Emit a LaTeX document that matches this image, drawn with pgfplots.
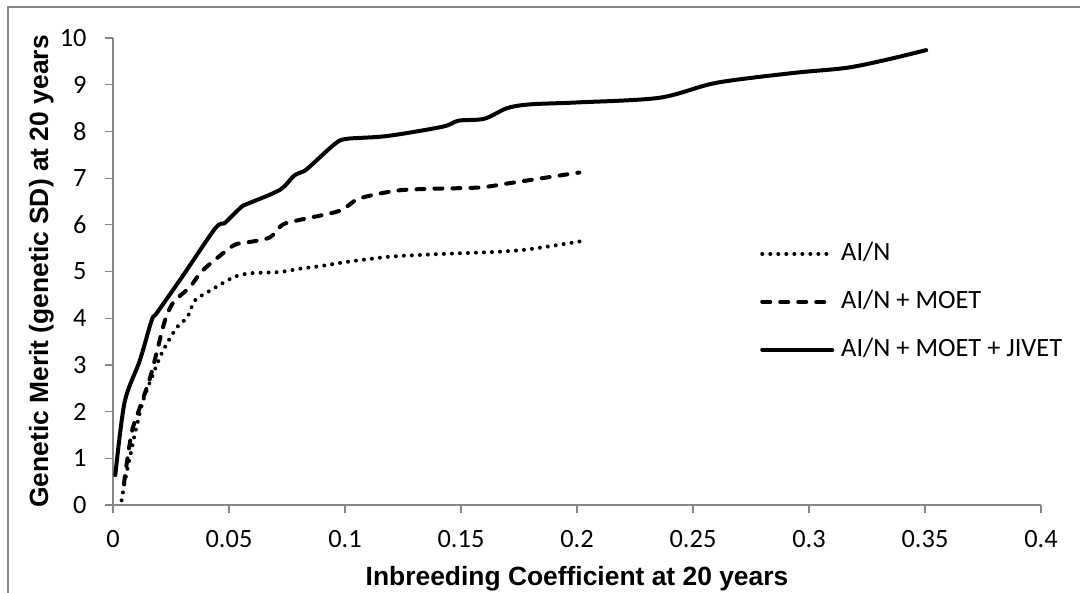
\documentclass[border=0pt]{standalone}
\usepackage{fontspec}
\setmainfont{Carlito}
\newfontfamily\labelfont{Liberation Sans}
\usepackage{pgfplots}
\pgfplotsset{compat=1.18}
\definecolor{axgray}{RGB}{134,134,134}
\begin{document}
\begin{tikzpicture}
\begin{axis}[
  scale only axis, width=464bp, height=233.5bp,
  xmin=0, xmax=0.4, ymin=0, ymax=10,
  axis x line*=bottom, axis y line*=left,
  axis line style={axgray, line width=0.6bp, -},
  tick style={axgray, line width=0.6bp},
  tick align=outside, major tick length=4bp,
  xtick={0,0.05,0.1,0.15,0.2,0.25,0.3,0.35,0.4},
  xticklabels={0,0.05,0.1,0.15,0.2,0.25,0.3,0.35,0.4},
  ytick={0,1,...,10},
  yticklabels={0,1,2,3,4,5,6,7,8,9,10},
  tick label style={font=\fontsize{13.2bp}{15bp}\selectfont, inner sep=0pt},
  xticklabel style={anchor=north},
  yticklabel style={anchor=east},
  xticklabel shift=8.5bp, yticklabel shift=9bp,
  xlabel={Inbreeding Coefficient at 20 years},
  ylabel={Genetic Merit (genetic SD) at 20 years},
  label style={font=\labelfont\bfseries\fontsize{13.2bp}{15bp}\selectfont, inner sep=0pt},
  x label style={at={(axis description cs:0.5,-0.1713)}, anchor=base},
  y label style={at={(axis description cs:-0.07,0.5)}, anchor=base},
  legend style={at={(axis description cs:0.697,0.435)}, anchor=west,
    draw=none, fill=none, inner sep=0pt, row sep=11bp,
    font=\fontsize{13.2bp}{15bp}\selectfont,
    nodes={inner sep=0pt, text height=10bp, text depth=3bp},
    /tikz/every odd column/.append style={column sep=3.5bp}},
  legend cell align=left,
  legend image code/.code={\draw[#1] (0bp,0bp) -- (35bp,0bp);},
  clip=false,
]
\addplot[black, line width=2bp, line cap=round, dash pattern=on 0.01bp off 4bp, smooth, tension=0.5] coordinates {
(0.0037,0.10) (0.0050,0.47) (0.0073,1.03) (0.0095,1.54) (0.0130,2.24)
(0.0168,2.74) (0.0215,3.30) (0.0275,3.80) (0.0320,4.02) (0.0353,4.38)
(0.0405,4.55) (0.0517,4.87) (0.0590,4.96) (0.0720,4.99) (0.0805,5.06)
(0.0900,5.12) (0.1000,5.20) (0.1200,5.32) (0.1440,5.38) (0.1650,5.42)
(0.1800,5.48) (0.2020,5.65)};
\addplot[black, line width=2bp, line cap=round, dash pattern=on 4bp off 5bp, smooth, tension=0.5] coordinates {
(0.0047,0.45) (0.0080,1.54) (0.0116,2.09) (0.0160,2.73) (0.0194,3.38)
(0.0224,3.95) (0.0260,4.34) (0.0330,4.66) (0.0375,4.96) (0.0420,5.17)
(0.0520,5.56) (0.0576,5.62) (0.0676,5.73) (0.0730,6.00) (0.0800,6.10)
(0.0977,6.30) (0.1060,6.56) (0.1220,6.73) (0.1365,6.77) (0.1580,6.80)
(0.1720,6.90) (0.2010,7.12)};
\addplot[black, line width=2bp, line cap=round, smooth, tension=0.5] coordinates {
(0.0010,0.64) (0.0050,2.20) (0.0116,3.10) (0.0167,3.96) (0.0190,4.12)
(0.0300,4.90) (0.0440,5.92) (0.0480,6.03) (0.0495,6.10) (0.0555,6.39)
(0.0580,6.45) (0.0720,6.75) (0.0780,7.05) (0.0827,7.16) (0.0860,7.30)
(0.0956,7.73) (0.1006,7.84) (0.1180,7.90) (0.1420,8.10) (0.1490,8.23)
(0.1600,8.27) (0.1700,8.50) (0.1800,8.58) (0.2000,8.62) (0.2355,8.72)
(0.2600,9.04) (0.2930,9.25) (0.3160,9.36) (0.3330,9.53) (0.3505,9.74)};
\legend{AI/N, AI/N + MOET, AI/N + MOET + JIVET}
\coordinate (O) at (rel axis cs:0,0);
\coordinate (T) at (rel axis cs:1,1);
\end{axis}
\draw[axgray, line width=0.6bp] ([shift={(-52.5bp,-100bp)}]O) rectangle ([shift={(100bp,15.5bp)}]T);
\pgfresetboundingbox
\useasboundingbox ([shift={(-56.5bp,-43.5bp)}]O) rectangle ([shift={(19.5bp,19bp)}]T);
\end{tikzpicture}
\end{document}
